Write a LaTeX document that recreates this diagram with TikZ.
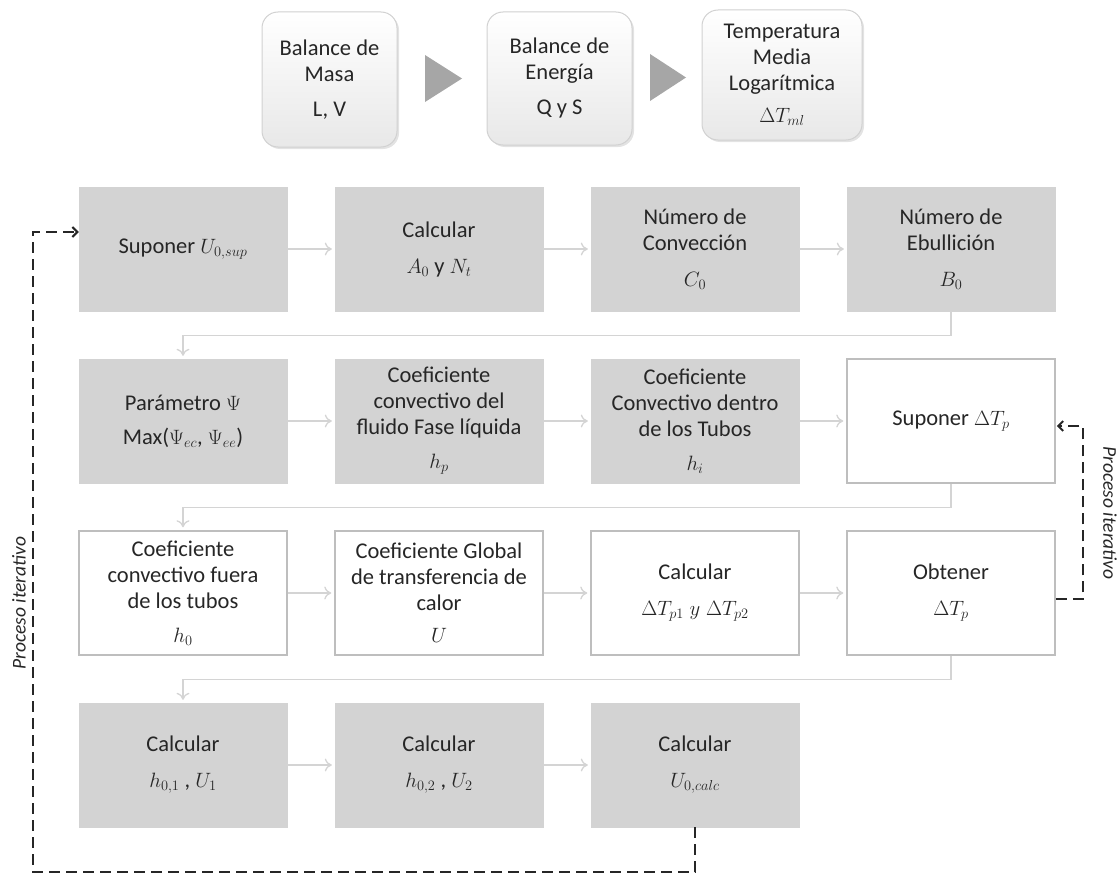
\documentclass[tikz,border=0pt]{standalone}
\usepackage{fontspec}
\setmainfont{Carlito}
\usetikzlibrary{arrows.meta,shadows,calc}
\definecolor{boxgray}{RGB}{211,211,211}
\definecolor{edgegray}{RGB}{190,190,190}
\definecolor{linkgray}{RGB}{212,212,212}
\definecolor{trigray}{RGB}{166,166,166}
\definecolor{txt}{RGB}{38,38,38}
\tikzset{
  cell/.style={minimum width=208pt, minimum height=124pt, inner sep=0pt, align=center,
    text=txt, font=\fontsize{22.5}{26}\selectfont},
  grayfill/.style={cell, fill=boxgray, draw=boxgray},
  whitefill/.style={cell, fill=white, draw=edgegray, line width=1.5pt},
  topbox/.style={rounded corners=16pt, draw=edgegray!70, line width=1pt,
    top color=white, bottom color=black!9, align=center, inner sep=0pt, text=txt,
    font=\fontsize{22.5}{26}\selectfont,
    drop shadow={opacity=0.22, shadow xshift=2pt, shadow yshift=-2pt}},
  linkarrow/.style={draw=linkgray, line width=1.3pt, -{To[length=7pt,width=13pt]}, shorten >=3pt},
  iterloop/.style={draw=black!85, line width=2pt, dash pattern=on 11pt off 6pt,
    -{Straight Barb[length=5pt,width=10pt]}},
  sidelabel/.style={font=\fontsize{19.5}{22}\selectfont\itshape, text=txt, inner sep=0pt}
}
\begin{document}
\begin{tikzpicture}[x=1pt,y=1pt]
\useasboundingbox (0,0) rectangle (1118,-875);

% top row
\node[topbox, minimum width=135pt, minimum height=135pt] (t1) at (329.5,-79.5) {Balance de\\Masa\\[9pt]L, V};
\node[topbox, minimum width=145pt, minimum height=133pt] (t2) at (559.5,-78.5) {Balance de\\Energía\\[9pt]Q y S};
\node[topbox, minimum width=160pt, minimum height=130pt] (t3) at (782,-75) {Temperatura\\Media\\Logarítmica\\[6pt]$\Delta T_{ml}$};
\fill[trigray] (425,-55) -- (462,-78.5) -- (425,-102) -- cycle;
\fill[trigray] (650,-54) -- (686,-77.5) -- (650,-101) -- cycle;

% row 1
\node[grayfill] (a1) at (183,-249) {Suponer $U_{0,sup}$};
\node[grayfill] (a2) at (439,-249) {Calcular\\[10pt]$A_0$ y $N_t$};
\node[grayfill] (a3) at (695,-249) {Número de\\Convección\\[10pt]$C_0$};
\node[grayfill] (a4) at (951,-249) {Número de\\Ebullición\\[10pt]$B_0$};
% row 2
\node[grayfill] (b1) at (183,-421) {Parámetro $\Psi$\\[8pt]Max($\Psi_{ec}$, $\Psi_{ee}$)};
\node[grayfill] (b2) at (439,-421) {Coeficiente\\convectivo del\\fluido Fase líquida\\[8pt]$h_p$};
\node[grayfill] (b3) at (695,-421) {Coeficiente\\Convectivo dentro\\de los Tubos\\[8pt]$h_i$};
\node[whitefill] (b4) at (951,-421) {Suponer $\Delta T_p$};
% row 3
\node[whitefill] (c1) at (183,-593) {Coeficiente\\convectivo fuera\\de los tubos\\[8pt]$h_0$};
\node[whitefill] (c2) at (439,-593) {Coeficiente Global\\de transferencia de\\calor\\[6pt]$U$};
\node[whitefill] (c3) at (695,-593) {Calcular\\[10pt]$\Delta T_{p1}\;y\;\Delta T_{p2}$};
\node[whitefill] (c4) at (951,-593) {Obtener\\[10pt]$\Delta T_p$};
% row 4
\node[grayfill] (d1) at (183,-765) {Calcular\\[10pt]$h_{0,1}$ , $U_1$};
\node[grayfill] (d2) at (439,-765) {Calcular\\[10pt]$h_{0,2}$ , $U_2$};
\node[grayfill] (d3) at (695,-765) {Calcular\\[10pt]$U_{0,calc}$};

% flow connectors
\draw[linkarrow] (a1) -- (a2);
\draw[linkarrow] (a2) -- (a3);
\draw[linkarrow] (a3) -- (a4);
\draw[linkarrow] (a4.south) -- ++(0,-24) -| (b1.north);
\draw[linkarrow] (b1) -- (b2);
\draw[linkarrow] (b2) -- (b3);
\draw[linkarrow] (b3) -- (b4);
\draw[linkarrow] (b4.south) -- ++(0,-24) -| (c1.north);
\draw[linkarrow] (c1) -- (c2);
\draw[linkarrow] (c2) -- (c3);
\draw[linkarrow] (c3) -- (c4);
\draw[linkarrow] (c4.south) -- ++(0,-24) -| (d1.north);
\draw[linkarrow] (d1) -- (d2);
\draw[linkarrow] (d2) -- (d3);

% iterative loops
\coordinate (loopL) at (33,-872);
\draw[iterloop] (d3.south) |- (loopL) |- ($(a1.west)+(0,17)$);
\coordinate (loopR) at (1083,-599);
\draw[iterloop] ($(c4.east)+(0,-6)$) -- (loopR) |- ($(b4.east)+(1,-5)$);

\node[sidelabel, rotate=90] (lab1) at (19,-603) {Proceso iterativo};
\node[sidelabel, rotate=-90] (lab2) at (1110,-513) {Proceso iterativo};
\end{tikzpicture}
\end{document}
